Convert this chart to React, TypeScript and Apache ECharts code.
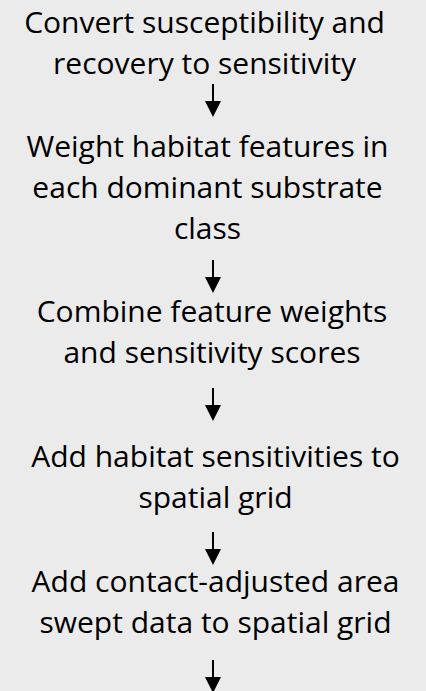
import React, { useEffect, useRef } from "react";
import * as echarts from "echarts";

// Flowchart step texts (one array of lines per step)
const step1 = ["Convert susceptibility and", "recovery to sensitivity"];
const step2 = ["Weight habitat features in", "each dominant substrate", "class"];
const step3 = ["Combine feature weights", "and sensitivity scores"];
const step4 = ["Add habitat sensitivities to", "spatial grid"];
const step5 = ["Add contact-adjusted area", "swept data to spatial grid"];
const steps = [step1, step2, step3, step4, step5];

// Layout (positions kept separate from the content)
const W = 426;
const H = 691;
const firstBaselines = [32.5, 157, 322, 467, 592];
const blockCenters = [204.5, 207.5, 212, 215.5, 215.5];
const arrowTops = [84, 260, 388, 532, 660];
const LINE_GAP = 41;
const FONT_SIZE = 30;
const BASELINE_TO_CENTRAL = 11.5;
const FONT = "'Open Sans', sans-serif";
const ARROW_X = 213;
const ARROW_LEN = 33;
const HEAD_LEN = 16;
const HEAD_HALF = 8;

export default function App() {
  const ref = useRef<HTMLDivElement>(null);
  useEffect(() => {
    if (!ref.current) return;
    const chart = echarts.init(ref.current, undefined, { renderer: "svg" });
    const elements: any[] = [];
    steps.forEach((lines, i) => {
      lines.forEach((t, j) => {
        elements.push({
          type: "text",
          x: blockCenters[i],
          y: firstBaselines[i] + j * LINE_GAP - BASELINE_TO_CENTRAL,
          style: {
            text: t,
            fill: "#000",
            font: `${FONT_SIZE}px ${FONT}`,
            textAlign: "center",
            textVerticalAlign: "middle",
          },
        });
      });
    });
    arrowTops.forEach((top) => {
      const bottom = top + ARROW_LEN;
      elements.push({
        type: "line",
        shape: { x1: ARROW_X, y1: top, x2: ARROW_X, y2: bottom - HEAD_LEN + 2 },
        style: { stroke: "#000", lineWidth: 2 },
      });
      elements.push({
        type: "polygon",
        shape: {
          points: [
            [ARROW_X - HEAD_HALF, bottom - HEAD_LEN],
            [ARROW_X + HEAD_HALF, bottom - HEAD_LEN],
            [ARROW_X, bottom],
          ],
        },
        style: { fill: "#000" },
      });
    });
    chart.setOption({
      animation: false,
      backgroundColor: "#ebebeb",
      graphic: { elements },
    });
    return () => chart.dispose();
  }, []);
  return (
    <>
      <style>{"svg text { font-variant-ligatures: none; }"}</style>
      <div
        ref={ref}
        style={{ position: "absolute", left: 0, top: 0, width: W, height: H }}
      />
    </>
  );
}
